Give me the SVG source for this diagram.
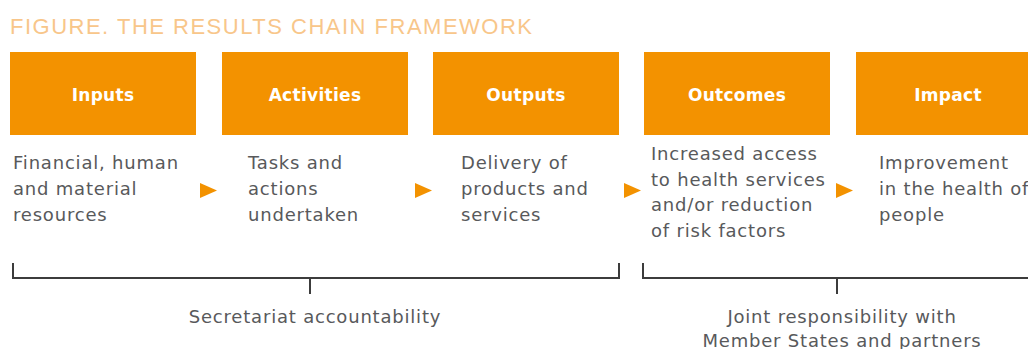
<svg xmlns="http://www.w3.org/2000/svg" width="1028" height="349" viewBox="0 0 1028 349">
  <style>
    .title { font-family: "Liberation Sans", Arial, sans-serif; font-size: 22px; fill: #f8c68a; letter-spacing: 1.5px; }
    .box { fill: #f39200; }
    .head { font-family: "DejaVu Sans", "Liberation Sans", sans-serif; font-size: 17px; font-weight: bold; fill: #ffffff; text-anchor: middle; letter-spacing: 0.3px; }
    .desc { font-family: "DejaVu Sans", "Liberation Sans", sans-serif; font-size: 18px; fill: #58595b; letter-spacing: 0.8px; }
    .note { font-family: "DejaVu Sans", "Liberation Sans", sans-serif; font-size: 18px; fill: #58595b; text-anchor: middle; letter-spacing: 0.8px; }
    .arrow { fill: #f39200; }
    .bracket { fill: none; stroke: #3c3c3c; stroke-width: 2; }
  </style>
  <rect width="1028" height="349" fill="#ffffff"/>

  <text class="title" x="10" y="34">FIGURE. THE RESULTS CHAIN FRAMEWORK</text>

  <g id="inputs">
    <rect class="box" x="10" y="52" width="186" height="83"/>
    <text class="head" x="103" y="101">Inputs</text>
    <text class="desc" x="13" y="169">Financial, human</text>
    <text class="desc" x="13" y="195">and material</text>
    <text class="desc" x="13" y="221">resources</text>
  </g>

  <g id="activities">
    <rect class="box" x="222" y="52" width="186" height="83"/>
    <text class="head" x="315" y="101">Activities</text>
    <text class="desc" x="248" y="169">Tasks and</text>
    <text class="desc" x="248" y="195">actions</text>
    <text class="desc" x="248" y="221">undertaken</text>
  </g>

  <g id="outputs">
    <rect class="box" x="433" y="52" width="186" height="83"/>
    <text class="head" x="526" y="101">Outputs</text>
    <text class="desc" x="461" y="169">Delivery of</text>
    <text class="desc" x="461" y="195">products and</text>
    <text class="desc" x="461" y="221">services</text>
  </g>

  <g id="outcomes">
    <rect class="box" x="644" y="52" width="186" height="83"/>
    <text class="head" x="737" y="101">Outcomes</text>
    <text class="desc" x="651" y="160">Increased access</text>
    <text class="desc" x="651" y="186">to health services</text>
    <text class="desc" x="651" y="211">and/or reduction</text>
    <text class="desc" x="651" y="237">of risk factors</text>
  </g>

  <g id="impact">
    <rect class="box" x="856" y="52" width="186" height="83"/>
    <text class="head" x="948" y="101">Impact</text>
    <text class="desc" x="879" y="169">Improvement</text>
    <text class="desc" x="879" y="195">in the health of</text>
    <text class="desc" x="879" y="221">people</text>
  </g>

  <g id="connectors">
    <polygon class="arrow" points="200,183 217,190.5 200,198"/>
    <polygon class="arrow" points="415,183 432,190.5 415,198"/>
    <polygon class="arrow" points="624,183 641,190.5 624,198"/>
    <polygon class="arrow" points="836,183 853,190.5 836,198"/>
  </g>

  <g id="secretariat">
    <path class="bracket" d="M13,263 V278 H619 V263 M310,278 V294"/>
    <text class="note" x="315" y="323">Secretariat accountability</text>
  </g>

  <g id="joint">
    <path class="bracket" d="M643,263 V278 H1028 M837,278 V294"/>
    <text class="note" x="842" y="323">Joint responsibility with</text>
    <text class="note" x="842" y="347">Member States and partners</text>
  </g>
</svg>
